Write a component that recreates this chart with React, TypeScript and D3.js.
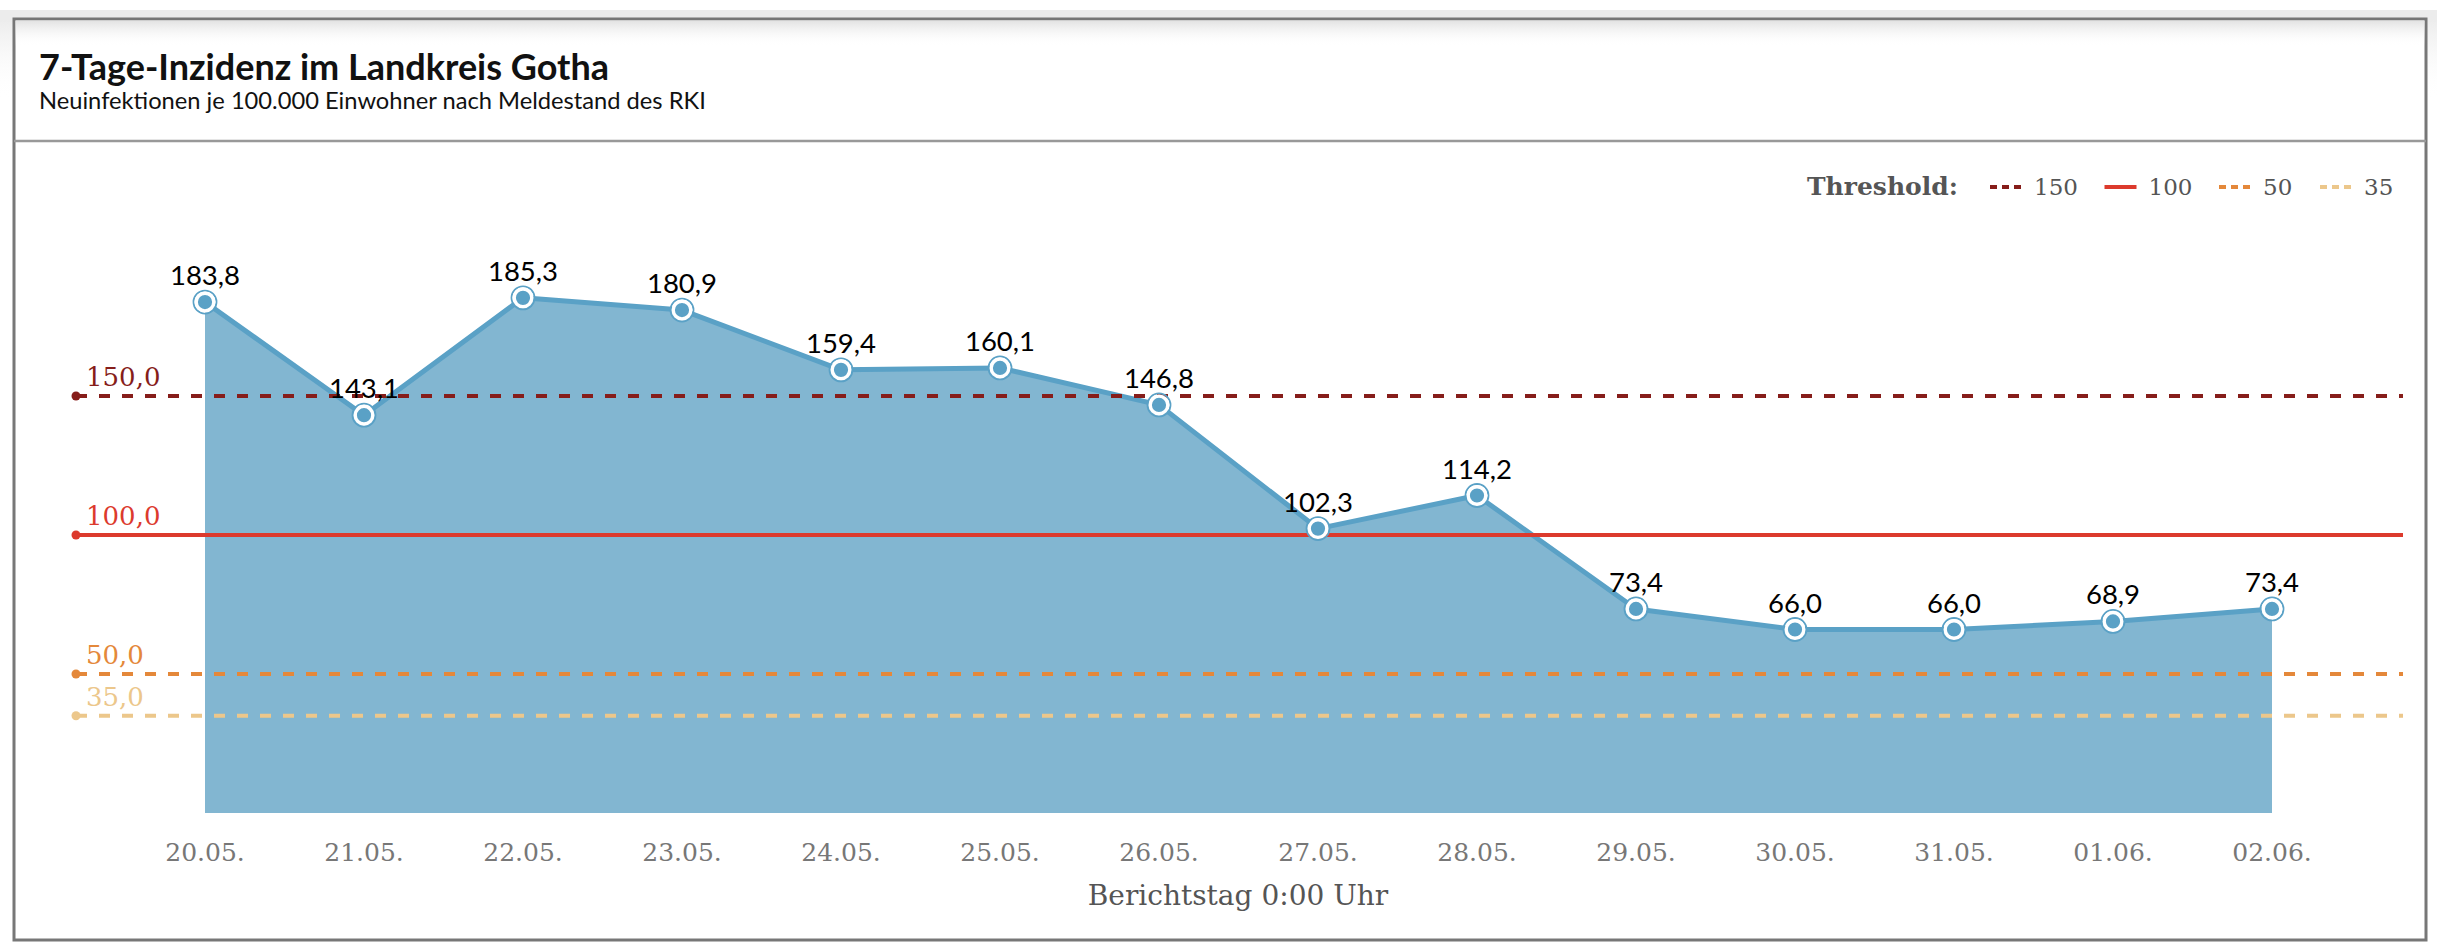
import React, { useEffect } from "react";
import * as d3 from "d3";

const dates = ["20.05.", "21.05.", "22.05.", "23.05.", "24.05.", "25.05.", "26.05.", "27.05.", "28.05.", "29.05.", "30.05.", "31.05.", "01.06.", "02.06."];
const incidence = [183.8, 143.1, 185.3, 180.9, 159.4, 160.1, 146.8, 102.3, 114.2, 73.4, 66.0, 66.0, 68.9, 73.4];
const thresholdValues = [150, 100, 50, 35];
const thresholdColors = ["#861d1a", "#dc3a2d", "#e4883a", "#ecc78b"];
const thresholdDashed = [true, false, true, true];

const title = "7-Tage-Inzidenz im Landkreis Gotha";
const subtitle = "Neuinfektionen je 100.000 Einwohner nach Meldestand des RKI";
const xAxisTitle = "Berichtstag 0:00 Uhr";
const legendTitle = "Threshold:";

const W = 2437;
const H = 945;
const SERIF = "Georgia, 'DejaVu Serif', serif";
const SANS = "Lato, 'Noto Sans', sans-serif";

const de = d3.formatLocale({ decimal: ",", thousands: ".", grouping: [3], currency: ["", " €"] });
const fmt = de.format(".1f");

export default function App() {
  useEffect(() => {
    document.body.style.margin = "0";
    document.body.style.overflow = "hidden";
  }, []);

  const x = d3.scalePoint<string>().domain(dates).range([205, 2272]);
  const y = d3.scaleLinear().domain([0, 200]).range([813, 257]);

  const pts = dates.map((d, i) => ({ d, v: incidence[i] }));
  const area = d3.area<{ d: string; v: number }>()
    .x((p) => x(p.d) as number)
    .y0(y(0))
    .y1((p) => y(p.v));
  const line = d3.line<{ d: string; v: number }>()
    .x((p) => x(p.d) as number)
    .y((p) => y(p.v));

  const lineX0 = 76;
  const lineX1 = 2403;

  // legend layout
  let lx = 1990;
  const legendItems = thresholdValues.map((v, i) => {
    const label = String(v);
    const item = { x: lx, label, color: thresholdColors[i], dashed: thresholdDashed[i] };
    lx += 32 + 12 + label.length * 13.5 + 30;
    return item;
  });

  return (
    <svg width={W} height={H} viewBox={`0 0 ${W} ${H}`} style={{ display: "block" }}>
      <defs>
        <linearGradient id="topShade" x1="0" y1="0" x2="0" y2="1">
          <stop offset="0" stopColor="#e2e2e2" stopOpacity={1} />
          <stop offset="1" stopColor="#ffffff" stopOpacity={0} />
        </linearGradient>
        <linearGradient id="leftShade" x1="0" y1="0" x2="0" y2="1">
          <stop offset="0" stopColor="#ececec" stopOpacity={1} />
          <stop offset="1" stopColor="#ffffff" stopOpacity={0} />
        </linearGradient>
      </defs>
      <rect x={0} y={0} width={W} height={H} fill="#ffffff" />
      <rect x={0} y={10} width={W} height={12} fill="#ececec" />
      <rect x={0} y={20} width={14} height={80} fill="url(#leftShade)" />
      <rect x={2426} y={20} width={11} height={80} fill="url(#leftShade)" />
      {/* card */}
      <rect x={14} y={19} width={2412} height={921} fill="#ffffff" stroke="#777777" strokeWidth={3} />
      <rect x={15.5} y={20.5} width={2409} height={26} fill="url(#topShade)" />
      <line x1={14} x2={2426} y1={141} y2={141} stroke="#999999" strokeWidth={2.5} />

      {/* header */}
      <text x={39} y={80} fontFamily={SANS} fontWeight={700} fontSize={36} fill="#111">{title}</text>
      <text x={39} y={109} fontFamily={SANS} fontSize={23.7} fill="#111">{subtitle}</text>

      {/* legend */}
      <text x={1807} y={195} fontFamily={SERIF} fontWeight={700} fontSize={25} fill="#555">{legendTitle}</text>
      {legendItems.map((it, i) => (
        <g key={i}>
          <line x1={it.x} x2={it.x + 32} y1={187} y2={187} stroke={it.color} strokeWidth={4}
            strokeDasharray={it.dashed ? "7 5" : undefined} />
          <text x={it.x + 44} y={195} fontFamily={SERIF} fontSize={23} fill="#555">{it.label}</text>
        </g>
      ))}

      {/* area + line */}
      <path d={area(pts) ?? ""} fill="#82b6d1" />
      <path d={line(pts) ?? ""} fill="none" stroke="#5aa1c6" strokeWidth={5} strokeLinejoin="round" />

      {/* thresholds */}
      {thresholdValues.map((v, i) => (
        <g key={v}>
          <line x1={lineX0} x2={lineX1} y1={y(v)} y2={y(v)} stroke={thresholdColors[i]} strokeWidth={4}
            strokeDasharray={thresholdDashed[i] ? "11 12" : undefined} />
          <circle cx={lineX0} cy={y(v)} r={4.5} fill={thresholdColors[i]} />
          <text x={86} y={y(v) - 10} fontFamily={SERIF} fontSize={26} fill={thresholdColors[i]}>{fmt(v)}</text>
        </g>
      ))}

      {/* points */}
      {pts.map((p) => (
        <g key={p.d}>
          <circle cx={x(p.d)} cy={y(p.v)} r={11.5} fill="none" stroke="#5aa1c6" strokeWidth={1.8} />
          <circle cx={x(p.d)} cy={y(p.v)} r={8.8} fill="#5aa1c6" stroke="#ffffff" strokeWidth={3.4} />
          <text x={x(p.d)} y={y(p.v) - 17} textAnchor="middle" fontFamily={SANS} fontSize={27.5} fill="#000">{fmt(p.v)}</text>
        </g>
      ))}

      {/* x axis labels */}
      {dates.map((d) => (
        <text key={d} x={x(d)} y={861} textAnchor="middle" fontFamily={SERIF} fontSize={25} fill="#777">{d}</text>
      ))}
      <text x={1238} y={905} textAnchor="middle" fontFamily={SERIF} fontSize={28} fill="#555">{xAxisTitle}</text>
    </svg>
  );
}
